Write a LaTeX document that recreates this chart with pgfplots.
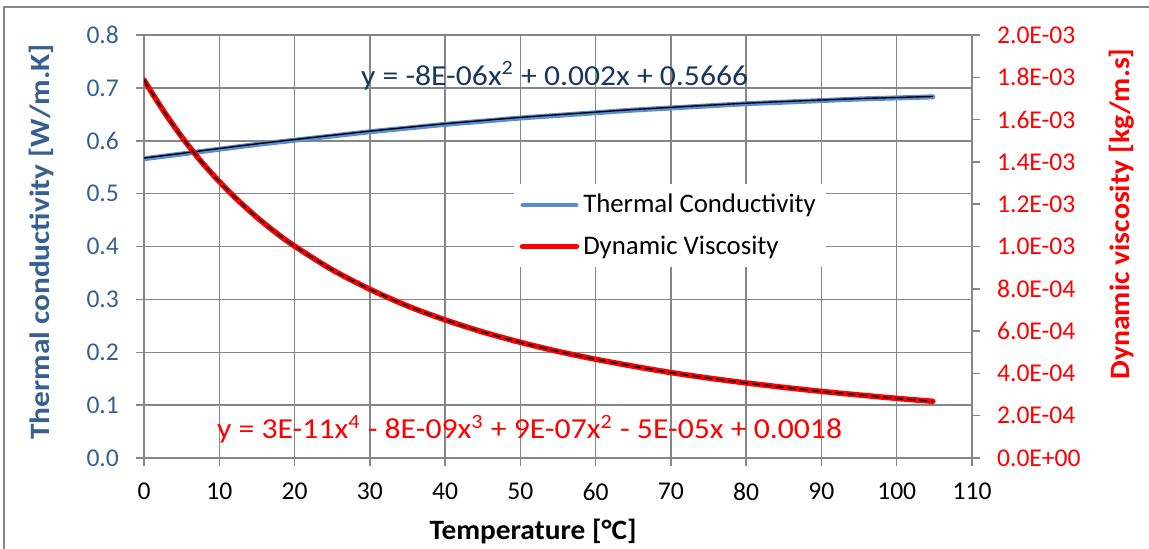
\documentclass[border=0pt]{standalone}
\usepackage{graphicx}
\usepackage{pgfplots}
\pgfplotsset{compat=1.18}
\usepackage{fontspec}
\setmainfont{Carlito}
\definecolor{gridgray}{RGB}{134,134,134}
\definecolor{axisblue}{RGB}{55,96,146}
\definecolor{eqblue}{RGB}{23,55,94}
\definecolor{tcblue}{RGB}{85,142,213}
\definecolor{dvred}{RGB}{255,0,0}
\pgfplotstableread{
x k t
0 0.566 0.5672
5 0.575 0.5762
10 0.584 0.5853
15 0.593 0.5942
20 0.601 0.6023
25 0.609 0.6103
30 0.617 0.6182
35 0.624 0.6253
40 0.631 0.6322
45 0.637 0.6383
50 0.643 0.6442
55 0.648 0.6493
60 0.653 0.6542
65 0.658 0.6590
70 0.662 0.6632
75 0.666 0.6672
80 0.670 0.6710
85 0.673 0.6742
90 0.676 0.6770
95 0.679 0.6797
100 0.681 0.6818
104.8 0.683 0.6838
}\tcdata
\pgfplotstableread{
x mu
0 0.001787
2.5 0.001646
5 0.001519
7.5 0.001406
10 0.001307
12.5 0.001218
15 0.001138
17.5 0.001066
20 0.001002
25 0.000890
30 0.000798
35 0.000719
40 0.000653
45 0.000596
50 0.000547
55 0.000504
60 0.000467
65 0.000434
70 0.000404
75 0.000378
80 0.000355
85 0.000334
90 0.000315
95 0.000298
100 0.000282
104.8 0.000268
}\dvdata
\begin{document}
\begin{tikzpicture}
\useasboundingbox (0,0) rectangle (574.5pt,274pt);
\draw[gridgray, line width=0.75pt] (2pt,-10pt) rectangle (590pt,270.5pt);
\begin{axis}[
  at={(72pt,45pt)}, anchor=south west,
  scale only axis, width=414pt, height=211.5pt,
  xmin=0, xmax=110, ymin=0, ymax=0.8,
  xtick={0,10,20,30,40,50,60,70,80,90,100,110},
  ytick={0,0.1,0.2,0.3,0.4,0.5,0.6,0.7,0.8},
  axis x line*=bottom, axis y line*=left,
  grid=major, grid style={gridgray, line width=0.75pt},
  axis line style={gridgray, line width=0.75pt, -},
  tick style={gridgray, line width=0.75pt},
  tick align=outside, major tick length=4pt,
  /pgf/number format/assume math mode=true,
  ticklabel style={font=\fontsize{12.8pt}{15pt}\selectfont},
  yticklabel style={text=axisblue, xshift=-5pt, /pgf/number format/.cd, fixed, fixed zerofill, precision=1},
  xticklabel style={text=black, yshift=-5pt},
  xlabel={\resizebox{103.5pt}{\height}{\textbf{Temperature [°C]}}},
  ylabel={\resizebox{198pt}{\height}{\textbf{Thermal conductivity [W/m.K]}}},
  xlabel style={at={(axis description cs:0.470,-0.1726)}, anchor=center, font=\fontsize{14pt}{16pt}\selectfont, text=black},
  ylabel style={at={(axis description cs:-0.1244,0.511)}, anchor=center, font=\fontsize{14pt}{16pt}\selectfont, text=axisblue},
]
\addplot[tcblue, line width=2.5pt, line cap=round, smooth] table[x=x,y=k] {\tcdata};
\addplot[black, line width=0.7pt, smooth] table[x=x,y=t] {\tcdata};
\node[anchor=base west, inner sep=0pt, text=eqblue, font=\fontsize{14.5pt}{16pt}\selectfont] at (axis cs:28.79,0.705) {\resizebox{193.5pt}{\height}{y = -8E-06x\textsuperscript{2} + 0.002x + 0.5666}};
\node[anchor=base west, inner sep=0pt, text=dvred, font=\fontsize{14.5pt}{16pt}\selectfont] at (axis cs:9.66,0.036) {\resizebox{312.5pt}{\height}{y = 3E-11x\textsuperscript{4} - 8E-09x\textsuperscript{3} + 9E-07x\textsuperscript{2} - 5E-05x + 0.0018}};
\end{axis}
\begin{axis}[
  at={(72pt,45pt)}, anchor=south west,
  scale only axis, width=414pt, height=211.5pt,
  xmin=0, xmax=110, ymin=0, ymax=0.002,
  axis x line=none, axis y line*=right,
  scaled y ticks=false,
  ytick={0,0.0002,0.0004,0.0006,0.0008,0.001,0.0012,0.0014,0.0016,0.0018,0.002},
  yticklabels={0.0E+00,2.0E-04,4.0E-04,6.0E-04,8.0E-04,1.0E-03,1.2E-03,1.4E-03,1.6E-03,1.8E-03,2.0E-03},
  axis line style={gridgray, line width=0.75pt, -},
  tick style={gridgray, line width=0.75pt},
  tick align=outside, major tick length=4pt,
  yticklabel style={text=dvred, xshift=5pt, font=\fontsize{12.8pt}{15pt}\selectfont},
  ylabel={\resizebox{165.5pt}{\height}{\textbf{Dynamic viscosity [kg/m.s]}}},
  ylabel style={at={(axis description cs:1.181,0.577)}, anchor=center, font=\fontsize{14pt}{16pt}\selectfont, text=dvred},
  legend style={at={(0.635,0.549)}, anchor=center, draw=none, fill=white,
    font=\fontsize{13.4pt}{16pt}\selectfont, row sep=6pt, inner sep=3pt},
  legend cell align=left,
  legend image code/.code={\draw[#1, line cap=round] (0pt,0pt) -- (27pt,0pt);},
]
\addlegendimage{tcblue, line width=2pt}
\addlegendentry{Thermal Conductivity}
\addplot[dvred, line width=2.75pt, line cap=round, smooth] table[x=x,y=mu] {\dvdata};
\addlegendentry{Dynamic Viscosity}
\addplot[black, line width=0.8pt, dash pattern=on 4pt off 2pt, smooth, forget plot] table[x=x,y=mu] {\dvdata};
\end{axis}
\end{tikzpicture}
\end{document}
